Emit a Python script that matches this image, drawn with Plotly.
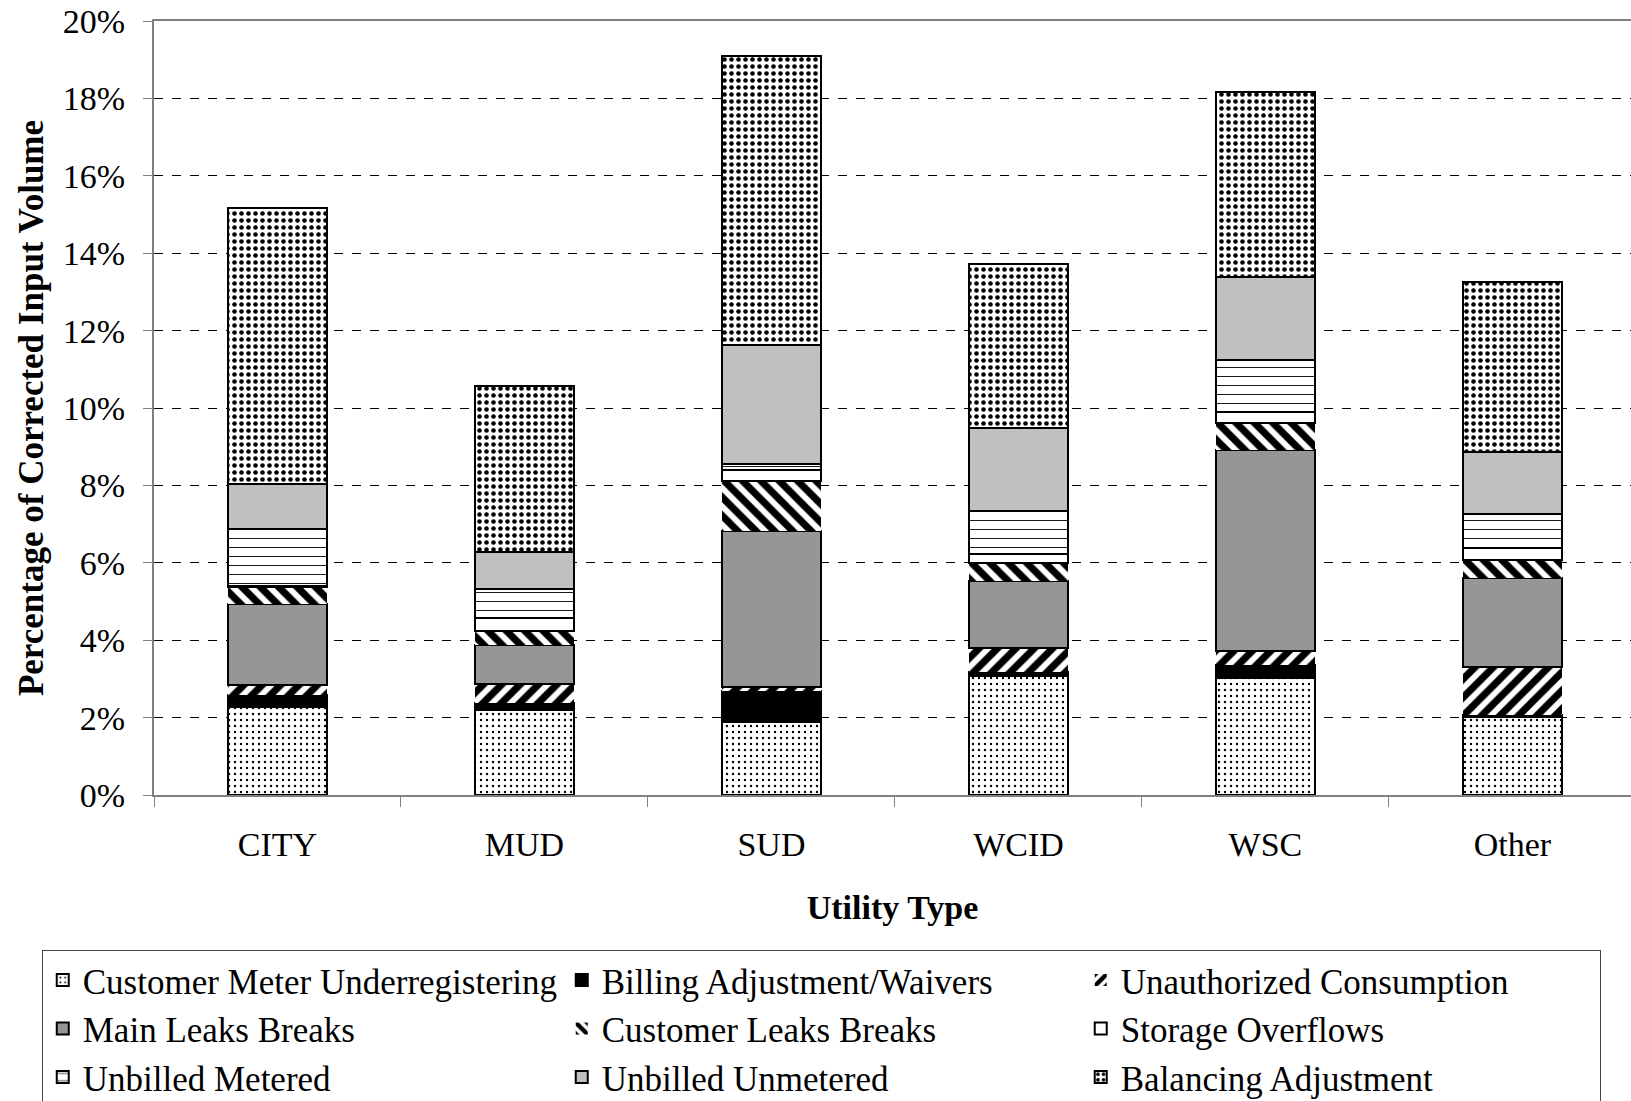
import plotly.graph_objects as go

# Utility types on the x axis
utility_types = ["CITY", "MUD", "SUD", "WCID", "WSC", "Other"]

# Water loss components, % of corrected input volume (bottom to top)
customer_meter = [2.28, 2.20, 1.88, 3.07, 3.03, 2.02]
billing_adj = [0.31, 0.19, 0.82, 0.10, 0.34, 0.05]
unauthorized = [0.25, 0.49, 0.08, 0.63, 0.36, 1.25]
main_leaks = [2.10, 1.00, 4.05, 1.73, 5.18, 2.29]
customer_leaks = [0.43, 0.35, 1.28, 0.47, 0.71, 0.47]
storage_overflows = [0.02, 0.34, 0.30, 0.23, 0.27, 0.29]
unbilled_metered = [1.49, 0.76, 0.15, 1.10, 1.34, 0.88]
unbilled_unmetered = [1.15, 0.96, 3.08, 2.15, 2.15, 1.61]
balancing_adj = [7.13, 4.29, 7.46, 4.23, 4.79, 4.40]

y_ticks = [0, 2, 4, 6, 8, 10, 12, 14, 16, 18, 20]
y_tick_labels = [f"{v}%" for v in y_ticks]

FONT = "Liberation Serif, Times New Roman, serif"

# name, values, fill colour, pattern settings, outline width
series = [
    ("Customer Meter Underregistering", customer_meter, "white",
     dict(shape=".", fgcolor="black", bgcolor="white", fgopacity=1, size=6, solidity=0.12), 2),
    ("Billing Adjustment/Waivers", billing_adj, "black", None, 2),
    ("Unauthorized Consumption", unauthorized, "white",
     dict(shape="/", fgcolor="black", bgcolor="white", fgopacity=1, size=13, solidity=0.55), 0),
    ("Main Leaks Breaks", main_leaks, "#969696", None, 2),
    ("Customer Leaks Breaks", customer_leaks, "white",
     dict(shape="\\", fgcolor="black", bgcolor="white", fgopacity=1, size=13, solidity=0.55), 0),
    ("Storage Overflows", storage_overflows, "white", None, 2),
    ("Unbilled Metered", unbilled_metered, "white",
     dict(shape="-", fgcolor="black", bgcolor="white", fgopacity=1, size=9, solidity=0.1), 2),
    ("Unbilled Unmetered", unbilled_unmetered, "#c0c0c0", None, 2),
    ("Balancing Adjustment", balancing_adj, "white",
     dict(shape=".", fgcolor="black", bgcolor="white", fgopacity=1, size=7, solidity=0.34), 2),
]

fig = go.Figure()
for name, vals, color, pattern, lw in series:
    marker = dict(color=color, line=dict(color="black", width=lw))
    if pattern:
        marker["pattern"] = pattern
    fig.add_trace(go.Bar(
        name=name,
        x=utility_types,
        y=vals,
        width=0.4,
        marker=marker,
    ))

fig.update_layout(
    barmode="stack",
    width=1631,
    height=1101,
    margin=dict(l=154, r=0, t=21, b=306, autoexpand=False),
    plot_bgcolor="white",
    paper_bgcolor="white",
    font=dict(family=FONT, size=34, color="black"),
    showlegend=True,
    legend=dict(
        orientation="h",
        x=-0.076,
        y=-0.2,
        xanchor="left",
        yanchor="top",
        entrywidth=474,
        entrywidthmode="pixels",
        bordercolor="#444444",
        borderwidth=1,
        font=dict(family=FONT, size=35),
        traceorder="normal",
    ),
)

fig.update_xaxes(
    range=[-0.5, 5.48],
    showline=True,
    linecolor="#808080",
    linewidth=2,
    mirror=True,
    ticks="outside",
    tickson="boundaries",
    ticklen=10,
    tickcolor="#808080",
    ticklabelstandoff=18,
    showgrid=False,
    title=dict(text="Utility Type", font=dict(family=FONT, size=34, weight="bold"), standoff=33),
)

fig.update_yaxes(
    range=[0, 20],
    tickvals=y_ticks,
    ticktext=y_tick_labels,
    ticklabeloverflow="allow",
    showline=True,
    linecolor="#808080",
    linewidth=2,
    ticks="outside",
    ticklen=9,
    tickcolor="#808080",
    ticklabelstandoff=11,
    showgrid=True,
    gridcolor="black",
    gridwidth=1,
    griddash="dash",
    zeroline=False,
    title=dict(text="Percentage of Corrected Input Volume",
               font=dict(family=FONT, size=35, weight="bold"), standoff=9),
)

# drop the default 8px page margin so the figure fills the window
fig.write_html(
    "out.html",
    config={"displayModeBar": False},
    post_script="document.body.style.margin = '0';",
)
